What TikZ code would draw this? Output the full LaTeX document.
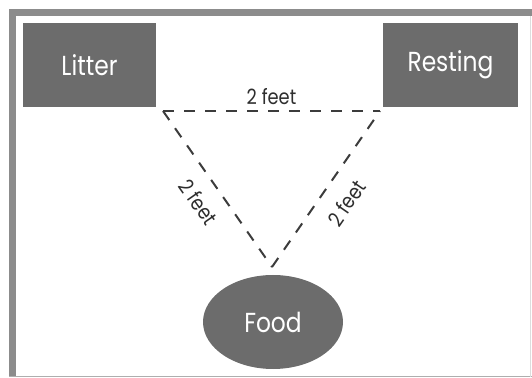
\documentclass[tikz,border=0pt]{standalone}
\usepackage{fontspec}
\setmainfont{Poppins}[FakeStretch=0.85]
\usetikzlibrary{shapes.geometric}
\definecolor{zonegray}{RGB}{108,108,108}
\definecolor{framegray}{RGB}{140,140,140}
\definecolor{dashgray}{RGB}{60,60,60}
\begin{document}
\begin{tikzpicture}[x=1pt,y=1pt,
  zone/.style={fill=zonegray, text=white, inner sep=0pt, font=\fontsize{27.5}{31}\selectfont},
  dist/.style={draw=dashgray, line width=2pt, dash pattern=on 11pt off 10pt},
  distlabel/.style={font=\fontsize{21}{24}\selectfont, text=black!82, inner sep=0pt}]
\useasboundingbox (0,0) rectangle (532,377);
% frame
\fill[framegray] (10,361) rectangle (532,368);
\fill[framegray] (9,0) rectangle (16,368);
\draw[framegray!70, line width=1pt] (9,1) -- (532,1);
\draw[framegray!30, line width=0.8pt] (530.5,0) -- (530.5,361);
% zones
\node[zone, rectangle, minimum width=133pt, minimum height=84pt] (litter) at (89.5,312) {Litter};
\node[zone, rectangle, minimum width=135pt, minimum height=84pt] (resting) at (450.5,312) {Resting};
\node[zone, ellipse, minimum width=140pt, minimum height=94pt] (food) at (273,55) {Food};
% triangle corners
\coordinate (a) at (163,266);
\coordinate (b) at (380,266);
\coordinate (c) at (272,110);
\draw[dist] (a) -- node[distlabel, above=5pt] (l1) {2 feet} (b);
\draw[dist] (a) -- node[distlabel, sloped, below=14pt] (l2) {2 feet} (c);
\draw[dist] (c) -- node[distlabel, sloped, below=16pt] (l3) {2 feet} (b);
\end{tikzpicture}
\end{document}
